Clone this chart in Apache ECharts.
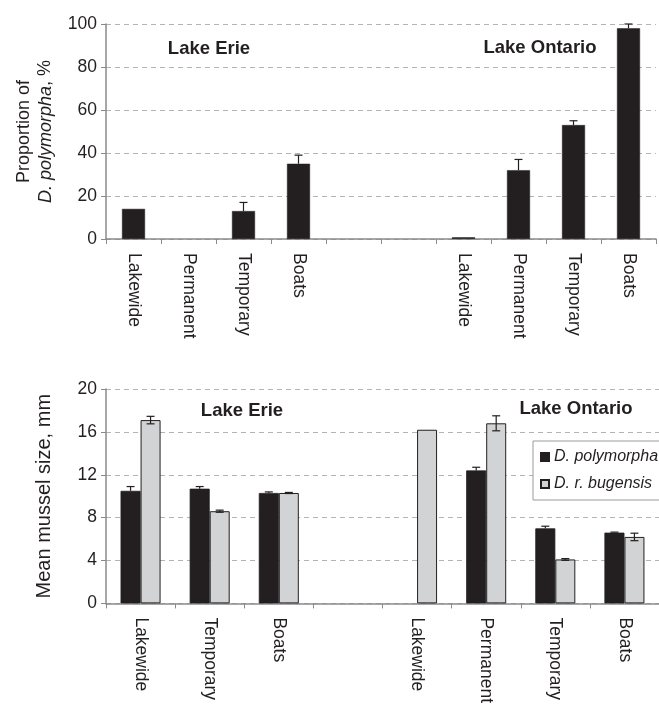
<!DOCTYPE html>
<html>
<head>
<meta charset="utf-8">
<script src="https://cdn.jsdelivr.net/npm/echarts@6/dist/echarts.min.js"></script>
<style>
html,body{margin:0;padding:0;background:#fff;}
#chart{width:659px;height:706px;}
</style>
</head>
<body>
<div id="chart"></div>
<script>
// ---- Data ----
const topCategories = ['Lakewide','Permanent','Temporary','Boats','','','Lakewide','Permanent','Temporary','Boats'];
const topValues = [14, null, 13, 35, null, null, 0.8, 32, 53, 98];
const topErr = [0, 0, 4, 4, 0, 0, 0, 5, 2, 2];
const topTicks = [0, 20, 40, 60, 80, 100];

const bottomCategories = ['Lakewide','Temporary','Boats','','Lakewide','Permanent','Temporary','Boats'];
const polyValues = [10.5, 10.7, 10.3, null, null, 12.4, 7.0, 6.6];
const polyErr = [0.4, 0.2, 0.1, 0, 0, 0.3, 0.2, 0.05];
const bugValues = [17.1, 8.6, 10.3, null, 16.2, 16.8, 4.1, 6.2];
const bugErr = [0.35, 0.1, 0.05, 0, 0, 0.7, 0.08, 0.35];
const bottomTicks = [0, 4, 8, 12, 16, 20];

const seriesNames = ['D. polymorpha', 'D. r. bugensis'];
const lakeNames = ['Lake Erie', 'Lake Ontario'];

// ---- Styles ----
const DARK = '#231f20';
const LIGHT = '#d1d3d4';
const AXIS = '#8a8a8a';
const GRIDC = '#b3b3b3';
const FONT = 'Liberation Sans, Arial, Helvetica, sans-serif';

function errRenderer(values, errs, offset, both) {
  return function (params, api) {
    const i = params.dataIndex;
    const v = values[i], e = errs[i];
    if (v == null || !e) return null;
    const c = api.coord([i, v]);
    const hi = api.coord([i, v + e]);
    const lo = both ? api.coord([i, v - e]) : c;
    const x = c[0] + offset;
    const cap = 4;
    const st = {stroke: DARK, lineWidth: 1.2};
    const ch = [
      {type: 'line', shape: {x1: x, y1: lo[1], x2: x, y2: hi[1]}, style: st},
      {type: 'line', shape: {x1: x - cap, y1: hi[1], x2: x + cap, y2: hi[1]}, style: st}
    ];
    if (both) ch.push({type: 'line', shape: {x1: x - cap, y1: lo[1], x2: x + cap, y2: lo[1]}, style: st});
    return {type: 'group', children: ch};
  };
}

function xAxisCfg(cats, gridIndex) {
  return {
    type: 'category', gridIndex: gridIndex, data: cats,
    axisLine: {lineStyle: {color: AXIS, width: 1.5}},
    axisTick: {show: true, interval: 0, alignWithLabel: false, length: 5, lineStyle: {color: AXIS, width: 1}},
    axisLabel: {interval: 0, rotate: -90, margin: 14, color: DARK, fontSize: 17.5, fontFamily: FONT},
    splitLine: {show: false}
  };
}
function yAxisCfg(ticks, gridIndex, name, nameGap) {
  return {
    type: 'value', gridIndex: gridIndex,
    min: ticks[0], max: ticks[ticks.length - 1], interval: ticks[1] - ticks[0],
    axisLine: {show: true, lineStyle: {color: AXIS, width: 1.5}},
    axisTick: {show: true, length: 5, lineStyle: {color: AXIS}},
    axisLabel: {color: DARK, fontSize: 17.5, fontFamily: FONT, margin: 9},
    splitLine: {show: true, lineStyle: {color: GRIDC, type: [5, 4], width: 1.2}},
    name: name, nameLocation: 'middle', nameRotate: 90, nameGap: nameGap,
    nameTextStyle: {color: DARK, fontFamily: FONT}
  };
}

const topY = yAxisCfg(topTicks, 0, '{n|Proportion of}\n{i|D. polymorpha}{n|, %}', 50);
topY.nameTextStyle.rich = {
  n: {fontSize: 18, fontFamily: FONT, color: DARK, lineHeight: 21},
  i: {fontSize: 18, fontFamily: FONT, color: DARK, fontStyle: 'italic', lineHeight: 21}
};
const botY = yAxisCfg(bottomTicks, 1, 'Mean mussel size, mm', 52);
botY.nameTextStyle.fontSize = 20;

const chart = echarts.init(document.getElementById('chart'), null, {renderer: 'canvas'});
chart.setOption({
  backgroundColor: '#fff',
  animation: false,
  textStyle: {fontFamily: FONT},
  grid: [
    {left: 106, top: 24, width: 550, height: 215},
    {left: 106, top: 389, width: 560, height: 215}
  ],
  xAxis: [xAxisCfg(topCategories, 0), xAxisCfg(bottomCategories, 1)],
  yAxis: [topY, botY],
  legend: {
    data: seriesNames, orient: 'vertical', left: 533, top: 441,
    itemWidth: 8, itemHeight: 8, itemGap: 11, icon: 'rect',
    padding: [8, 12, 8, 7],
    borderColor: '#9a9a9a', borderWidth: 1, backgroundColor: '#fff',
    textStyle: {fontSize: 16, fontStyle: 'italic', color: DARK, fontFamily: FONT}
  },
  graphic: [
    {type: 'text', x: 209, y: 49, style: {text: lakeNames[0], font: 'bold 18.5px ' + FONT, fill: DARK, align: 'center', verticalAlign: 'middle'}},
    {type: 'text', x: 540, y: 48, style: {text: lakeNames[1], font: 'bold 18.5px ' + FONT, fill: DARK, align: 'center', verticalAlign: 'middle'}},
    {type: 'text', x: 242, y: 411, style: {text: lakeNames[0], font: 'bold 18.5px ' + FONT, fill: DARK, align: 'center', verticalAlign: 'middle'}},
    {type: 'text', x: 576, y: 409, style: {text: lakeNames[1], font: 'bold 18.5px ' + FONT, fill: DARK, align: 'center', verticalAlign: 'middle'}}
  ],
  series: [
    {
      name: 'Proportion', type: 'bar', xAxisIndex: 0, yAxisIndex: 0,
      data: topValues, barWidth: 23,
      itemStyle: {color: DARK, borderColor: DARK, borderWidth: 0.5}
    },
    {
      type: 'custom', xAxisIndex: 0, yAxisIndex: 0, z: 5,
      data: topValues.map((v, i) => [i, v == null ? 0 : v]),
      renderItem: errRenderer(topValues, topErr, 0, false)
    },
    {
      name: seriesNames[0], type: 'bar', xAxisIndex: 1, yAxisIndex: 1,
      data: polyValues, barWidth: 20, barGap: '0%',
      itemStyle: {color: DARK, borderColor: DARK, borderWidth: 0.8}
    },
    {
      name: seriesNames[1], type: 'bar', xAxisIndex: 1, yAxisIndex: 1,
      data: bugValues, barWidth: 20, barGap: '0%',
      itemStyle: {color: LIGHT, borderColor: DARK, borderWidth: 1}
    },
    {
      type: 'custom', xAxisIndex: 1, yAxisIndex: 1, z: 5,
      data: polyValues.map((v, i) => [i, v == null ? 0 : v]),
      renderItem: errRenderer(polyValues, polyErr, -10, false)
    },
    {
      type: 'custom', xAxisIndex: 1, yAxisIndex: 1, z: 5,
      data: bugValues.map((v, i) => [i, v == null ? 0 : v]),
      renderItem: errRenderer(bugValues, bugErr, 10, true)
    }
  ]
});
</script>
</body>
</html>
